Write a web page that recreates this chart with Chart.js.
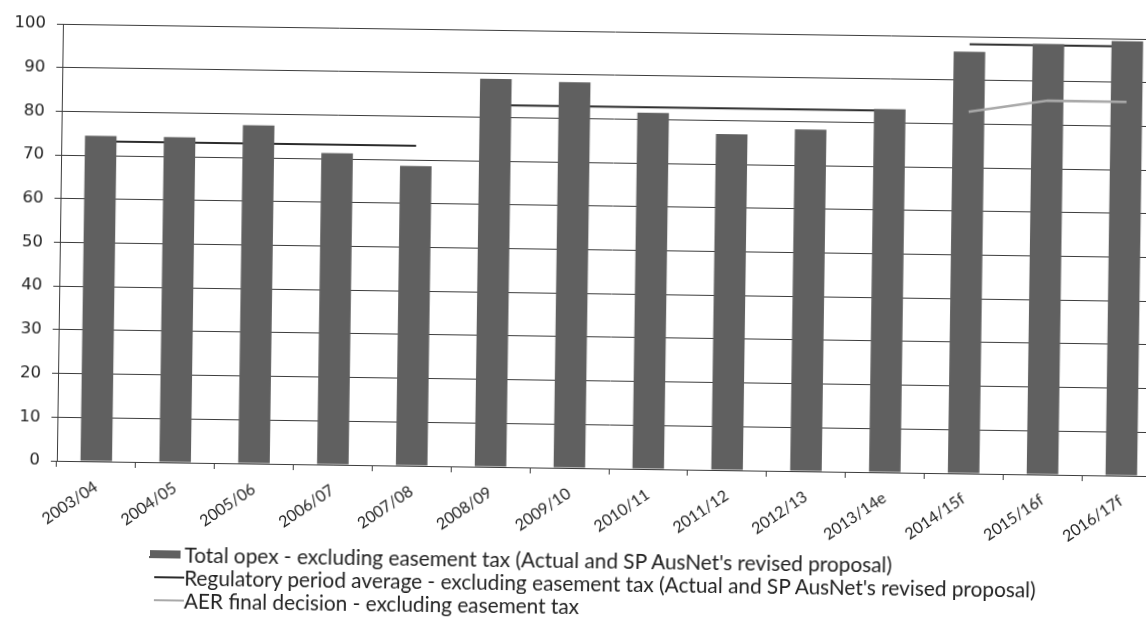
<!DOCTYPE html>
<html><head><meta charset="utf-8">
<script src="https://cdn.jsdelivr.net/npm/chart.js@4/dist/chart.umd.min.js"></script>
<style>
html,body{margin:0;padding:0;background:#fff;overflow:hidden;width:1146px;height:619px;}
#wrap{position:absolute;left:0;top:0;width:1175px;height:640px;transform:rotate(0.8deg);transform-origin:573px 309.5px;}
#c{position:absolute;left:0;top:0;}
.row{position:absolute;left:0;height:24px;white-space:nowrap;}
.txt{position:absolute;left:188px;top:0;line-height:24px;font-family:Lato,"Liberation Sans",sans-serif;font-size:20.8px;color:#222;}
.sw{position:absolute;}
</style></head><body>
<div id="wrap"><canvas id="c" width="1175" height="619"></canvas><div id="legend"></div></div>
<script>
const categories = ['2003/04','2004/05','2005/06','2006/07','2007/08','2008/09','2009/10','2010/11','2011/12','2012/13','2013/14e','2014/15f','2015/16f','2016/17f'];
const totalOpex = [74.5, 74.4, 77.4, 71.3, 68.6, 88.8, 88.3, 81.5, 76.9, 78.2, 83.1, 96.5, 98.5, 99.4];
const regAvgPeriod1 = [73.2, 73.2, 73.2, 73.2, 73.2, null, null, null, null, null, null, null, null, null];
const regAvgPeriod2 = [null, null, null, null, null, 82.8, 82.8, 82.8, 82.8, 82.8, 82.8, null, null, null];
const regAvgPeriod3 = [null, null, null, null, null, null, null, null, null, null, null, 98.2, 98.2, 98.2];
const aerDecision = [null, null, null, null, null, null, null, null, null, null, null, 82.8, 85.6, 85.5];
const yTicks = [0, 10, 20, 30, 40, 50, 60, 70, 80, 90, 100];
const legendLabels = [
  "Total opex - excluding easement tax (Actual and SP AusNet's revised proposal)",
  "Regulatory period average - excluding easement tax (Actual and SP AusNet's revised proposal)",
  "AER final decision - excluding easement tax"
];

const BAR = '#606060', REG = '#2b2b2b', AER = '#a9a9a9', GRID = '#3c3c3c';

const regStyle = {type:'line', borderColor: REG, borderWidth: 2, pointRadius: 0, fill: false, spanGaps: false, order: 2};
new Chart(document.getElementById('c'), {
  type: 'bar',
  data: {
    labels: categories,
    datasets: [
      {label: legendLabels[0], data: totalOpex, backgroundColor: BAR, barPercentage: 0.4, categoryPercentage: 1, order: 1},
      Object.assign({label: legendLabels[1], data: regAvgPeriod1}, regStyle),
      Object.assign({label: legendLabels[1], data: regAvgPeriod2}, regStyle),
      Object.assign({label: legendLabels[1], data: regAvgPeriod3}, regStyle),
      {type:'line', label: legendLabels[2], data: aerDecision, borderColor: AER, borderWidth: 2.5, pointRadius: 0, fill: false, order: 0}
    ]
  },
  options: {
    responsive: false, animation: false, devicePixelRatio: 1,
    layout: {padding: {left: 0, right: 12, top: 31, bottom: 0}},
    plugins: {legend: {display: false}, tooltip: {enabled: false}},
    scales: {
      x: {
        grid: {display: true, drawOnChartArea: false, drawTicks: true, tickLength: 6, color: GRID, offset: true},
        border: {display: true, color: GRID, width: 1},
        ticks: {color: '#222', font: {family: 'Lato', size: 16}, minRotation: 35, maxRotation: 35, padding: 10, autoSkip: false},
        afterCalculateLabelRotation: s => { s.labelRotation = 35; },
        afterFit: s => { s.height = 151; }
      },
      y: {
        min: 0, max: 100,
        afterBuildTicks: s => { s.ticks = yTicks.map(v => ({value: v})); },
        grid: {color: GRID, lineWidth: 1, tickLength: 6, drawTicks: true},
        border: {display: true, color: GRID, width: 1},
        ticks: {color: '#222', font: {family: 'DejaVu Sans', size: 16.5}, padding: 11},
        afterFit: s => { s.width = 59; }
      }
    }
  }
});

const lg = document.getElementById('legend');
const rowsY = [560, 583, 606];
legendLabels.forEach((t, i) => {
  const r = document.createElement('div');
  r.className = 'row';
  r.style.top = (rowsY[i] - 12) + 'px';
  const sw = document.createElement('div');
  sw.className = 'sw';
  if (i === 0) { sw.style.cssText = 'left:153px;top:8px;width:31px;height:8px;background:' + BAR; }
  else { sw.style.cssText = 'left:158px;top:11px;width:30px;height:2px;background:' + (i === 1 ? REG : AER); }
  const tx = document.createElement('div');
  tx.className = 'txt';
  tx.textContent = t;
  r.appendChild(sw); r.appendChild(tx);
  lg.appendChild(r);
});
</script>
</body></html>
